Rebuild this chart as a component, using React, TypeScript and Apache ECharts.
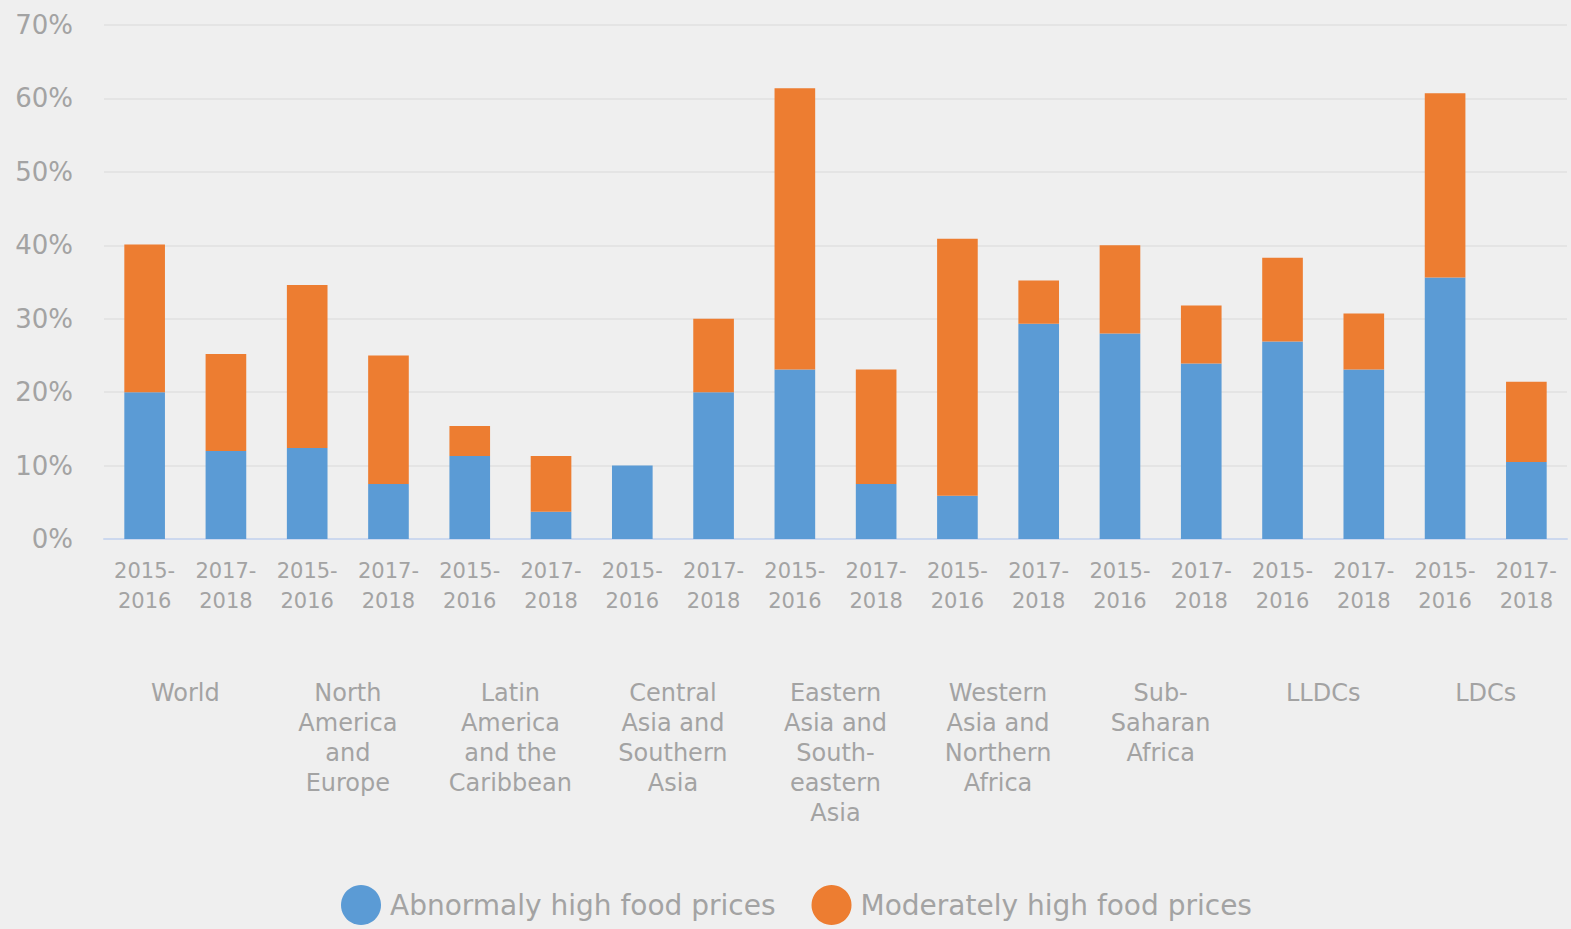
import React, { useEffect, useRef } from "react";
import * as echarts from "echarts";

const periods = [
  "2015-\n2016", "2017-\n2018", "2015-\n2016", "2017-\n2018", "2015-\n2016", "2017-\n2018",
  "2015-\n2016", "2017-\n2018", "2015-\n2016", "2017-\n2018", "2015-\n2016", "2017-\n2018",
  "2015-\n2016", "2017-\n2018", "2015-\n2016", "2017-\n2018", "2015-\n2016", "2017-\n2018",
];
const regions = [
  "World",
  "North\nAmerica\nand\nEurope",
  "Latin\nAmerica\nand the\nCaribbean",
  "Central\nAsia and\nSouthern\nAsia",
  "Eastern\nAsia and\nSouth-\neastern\nAsia",
  "Western\nAsia and\nNorthern\nAfrica",
  "Sub-\nSaharan\nAfrica",
  "LLDCs",
  "LDCs",
];
const abnormal = [20, 12, 12.4, 7.5, 11.3, 3.7, 10, 20, 23.1, 7.5, 5.9, 29.3, 28, 23.9, 26.9, 23.1, 35.6, 10.5];
const moderate = [20.1, 13.2, 22.2, 17.5, 4.1, 7.6, 0, 10, 38.3, 15.6, 35, 5.9, 12, 7.9, 11.4, 7.6, 25.1, 10.9];
const seriesNames = ["Abnormaly high food prices", "Moderately high food prices"];

const FONT = "DejaVu Sans";
const GREY = "#a3a3a3";

export default function App() {
  const ref = useRef<HTMLDivElement>(null);
  useEffect(() => {
    if (!ref.current) return;
    const chart = echarts.init(ref.current, null, { renderer: "svg" });
    chart.setOption({
      animation: false,
      backgroundColor: "#efefef",
      textStyle: { fontFamily: FONT },
      grid: { left: 104, right: 4, top: 25, bottom: 390, containLabel: false },
      legend: {
        left: 336,
        top: 880,
        itemWidth: 40,
        itemHeight: 40,
        itemGap: 36,
        icon: "circle",
        textStyle: { fontFamily: FONT, fontSize: 28, color: GREY, padding: [0, 0, 0, 4] },
        data: seriesNames,
      },
      xAxis: [
        {
          type: "category",
          data: periods,
          position: "bottom",
          axisLine: { show: true, lineStyle: { color: "#ccd8ee", width: 2 } },
          axisTick: { show: false },
          axisLabel: {
            interval: 0,
            color: GREY,
            fontFamily: FONT,
            fontSize: 21,
            lineHeight: 30,
            margin: 17,
          },
        },
        {
          type: "category",
          data: regions,
          position: "bottom",
          offset: 139,
          axisLine: { show: false },
          axisTick: { show: false },
          axisLabel: {
            interval: 0,
            color: GREY,
            fontFamily: FONT,
            fontSize: 24,
            lineHeight: 30,
            margin: 0,
          },
        },
      ],
      yAxis: {
        type: "value",
        min: 0,
        max: 70,
        interval: 10,
        axisLine: { show: false },
        axisTick: { show: false },
        splitLine: { lineStyle: { color: "#e4e4e4", width: 2 } },
        axisLabel: {
          formatter: "{value}%",
          color: GREY,
          fontFamily: FONT,
          fontSize: 26,
          margin: 31,
        },
      },
      series: [
        {
          name: seriesNames[0],
          type: "bar",
          stack: "total",
          data: abnormal,
          barWidth: "50%",
          itemStyle: { color: "#5b9bd5" },
        },
        {
          name: seriesNames[1],
          type: "bar",
          stack: "total",
          data: moderate,
          barWidth: "50%",
          itemStyle: { color: "#ed7d31" },
        },
      ],
    });
    return () => chart.dispose();
  }, []);
  return (
    <div
      ref={ref}
      style={{ position: "fixed", left: 0, top: 0, width: 1571, height: 929 }}
    />
  );
}
